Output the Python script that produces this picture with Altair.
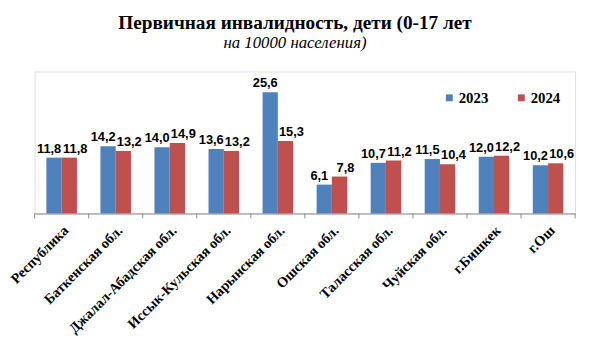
import altair as alt
import pandas as pd

categories = ["Республика", "Баткенская обл.", "Джалал-Абадская обл.", "Иссык-Кульская обл.",
              "Нарынская обл.", "Ошская обл.", "Таласская обл.", "Чуйская обл.", "г.Бишкек", "г.Ош"]
v2023 = [11.8, 14.2, 14.0, 13.6, 25.6, 6.1, 10.7, 11.5, 12.0, 10.2]
v2024 = [11.8, 13.2, 14.9, 13.2, 15.3, 7.8, 11.2, 10.4, 12.2, 10.6]
years = ["2023", "2024"]
colors = ["#4F81BD", "#C0504D"]

rows = []
for c, a, b in zip(categories, v2023, v2024):
    for y, v in zip(years, (a, b)):
        rows.append({"cat": c, "year": y, "value": v, "label": f"{v:.1f}".replace(".", ",")})
df = pd.DataFrame(rows)

W, H = 548, 144
serif = "Liberation Serif"
sans = "Liberation Sans"

x = alt.X("cat:N", sort=categories, title=None,
          scale=alt.Scale(paddingInner=0, paddingOuter=0),
          axis=alt.Axis(labelAngle=-45, labelFont=serif, labelFontWeight="bold", labelFontSize=14.5,
                        labelColor="#000", ticks=False, domainColor="#8c8c8c", labelPadding=10,
                        labelOverlap=False, labelBound=False))
xo = alt.XOffset("year:N", sort=years, scale=alt.Scale(paddingInner=0, paddingOuter=0.77))
y = alt.Y("value:Q", scale=alt.Scale(domain=[0, 30], nice=False), axis=None)

base = alt.Chart(df)
bars = base.mark_bar().encode(
    x=x, xOffset=xo, y=y,
    color=alt.Color("year:N", sort=years, scale=alt.Scale(domain=years, range=colors),
                    legend=alt.Legend(title=None, orient="none", legendX=413, legendY=19,
                                      direction="horizontal", symbolType="square", symbolSize=49,
                                      symbolStrokeWidth=0, labelFont=serif, labelFontWeight="bold",
                                      labelFontSize=15, labelColor="#000", columnPadding=26,
                                      labelOffset=2)),
)

def label_layer(year, dx):
    return base.transform_filter(alt.datum.year == year).mark_text(
        baseline="bottom", dy=-2, dx=dx, font=sans, fontWeight="bold", fontSize=13, color="#000"
    ).encode(x=x, xOffset=xo, y=y, text="label:N")

texts_a = label_layer("2023", -5)
texts_b = label_layer("2024", 6)

tick_df = pd.DataFrame({"cat": categories})
ticks = alt.Chart(tick_df).mark_rule(color="#8c8c8c").encode(
    x=alt.X("cat:N", sort=categories, bandPosition=0),
    y=alt.value(H), y2=alt.value(H + 5))
last_tick = alt.Chart(tick_df.head(1)).mark_rule(color="#8c8c8c").encode(
    x=alt.value(W), y=alt.value(H), y2=alt.value(H + 5))

chart = alt.layer(bars, texts_a, texts_b, ticks, last_tick).properties(
    width=W, height=H,
    autosize=alt.AutoSizeParams(type="none"),
    padding={"left": 27, "top": 62, "right": 6, "bottom": 130},
    title=alt.TitleParams(text="Первичная инвалидность, дети (0-17 лет",
                          subtitle="на 10000 населения)",
                          anchor="middle", frame="group", dx=-10, offset=20,
                          font=serif, fontSize=19.5, fontWeight="bold", color="#000",
                          subtitleFont=serif, subtitleFontSize=17, subtitleFontStyle="italic",
                          subtitleColor="#000", subtitlePadding=2),
).configure_view(stroke=None).configure(background="#ffffff")

chart.save("out.html", embed_options={"renderer": "svg", "actions": False})
